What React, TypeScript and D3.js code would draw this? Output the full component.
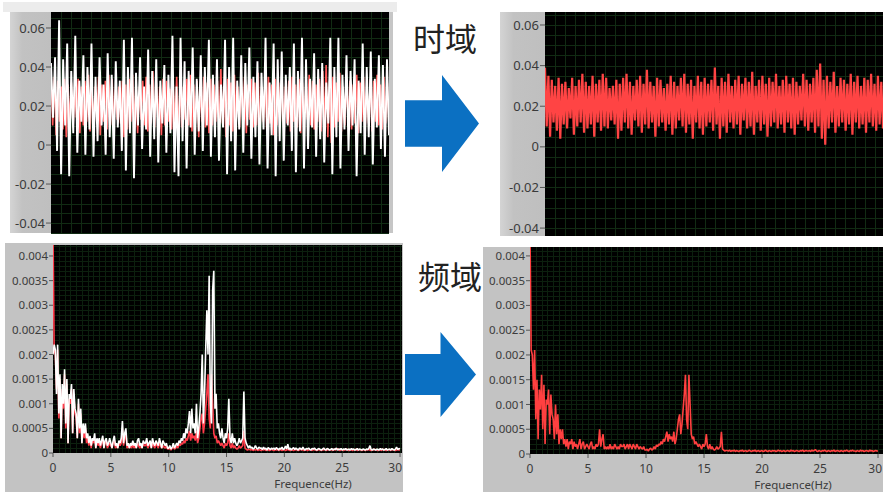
import React from "react";
import * as d3 from "d3";

// time-domain samples, units of 0.001
const rawTime = [42,14,45,-3,64,-15,44,10,52,-16,38,6,56,-4,33,12,46,-5,40,8,52,-6,35,2,45,10,31,-5,47,4,36,-7,43,9,33,-3,54,-13,40,6,55,-17,37,10,45,-2,30,8,49,-6,38,3,44,-9,33,11,41,-4,36,6,56,-14,30,-16,55,2,43,-12,38,9,50,-5,34,7,46,-3,40,10,54,-6,36,4,44,-8,31,9,54,-15,40,2,55,-13,33,8,46,-4,42,10,50,-7,35,4,43,-10,37,8,55,-12,32,5,52,-16,44,2,48,-8,36,10,40,-3,52,-14,38,7,55,-12,44,-2,34,9,47,-6,39,3,42,-9,32,11,55,-15,40,4,55,-12,36,8,46,-3,38,10,44,-16,33,6,52,-5,40,4,48,-10,34,9,46,-2,41,-6,44,5];

const filteredTime = [39,10,35,5,33,12,30,8,34,4,31,11,32,9,29,14,34,6,30,10,
  33,12,36,7,32,9,30,11,35,5,31,12,33,8,36,10,34,9,29,13,
  30,11,33,4,31,8,34,12,36,9,32,6,30,13,33,10,35,7,31,11,
  38,9,32,12,30,5,34,10,33,12,29,8,31,11,35,6,32,9,30,13,
  34,10,36,7,31,11,33,4,30,12,35,9,32,6,34,10,31,12,33,8,
  39,11,30,4,34,10,32,7,36,12,30,9,33,11,35,6,31,13,34,9,
  32,10,37,6,30,12,33,8,35,11,31,5,34,10,32,12,36,9,30,11,
  33,7,35,12,31,9,34,6,32,11,30,13,36,10,33,8,31,12,34,7,
  38,10,41,4,33,1,35,9,32,12,37,7,30,10,34,12,33,8,31,11,
  36,6,32,12,35,9,30,11,34,7,33,12,36,10,31,8,35,11,32,9];

// amplitude spectra, 0.1 Hz bins starting at 0 Hz, units of 0.0001
const binHz = 0.1;
const rawSpectrum = [20,22,21,12,22,8,16,3,14,10,
  17,6,15,2,12,11,14,4,13,9,
  8,3,11,5,9,2,6,4,6,3,
  4,2,3.5,1.5,3,2.5,4,1,3,2,
  3,1.5,2.5,3.5,1,2.5,3,1.5,2,3,
  2,1,2.5,3.5,1.5,2,1,2.5,2,3,
  6.5,2,4,5,1.5,2,1,2,1.5,2.5,
  1.5,2,1,2.5,3,1.5,2,1,2.5,2,
  2,3,1.5,2,2.5,1,3,2,1.5,2.5,
  2,1.5,3,2,1,2.5,2,1.5,2,1,
  1,1.5,0.8,1.2,2,1,1.5,2,1.5,2.5,
  2,3,2.5,4,3,5,4,6,8.5,4,
  9,5,6,4,10,3,5,8,12,20,
  6,12,21,29,20,36,10,6,33,37,
  9,12,5,6,4,3,5,3,2,4,
  3,5,11,3,2,4,2,3,2,1.5,
  2,3,2,2.5,3,12.5,3,2,1.5,1,
  1.5,1,1.2,0.8,1,1.5,1,0.8,1.2,1,
  1,0.7,1.2,0.8,1,0.6,1.1,0.9,0.7,1,
  0.8,1,0.7,1.1,0.9,0.6,1,0.8,1.2,0.7,
  0.9,1.4,0.8,1.8,0.7,1,0.6,0.9,1.1,0.7,
  1,0.8,0.6,1,0.9,0.7,1.2,0.8,0.6,0.9,
  0.8,1,0.7,0.6,0.9,0.8,1,0.7,0.6,0.8,
  0.9,0.7,0.6,0.8,1,0.7,0.6,0.9,0.8,0.6,
  0.7,0.9,0.6,0.8,0.7,1,0.6,0.8,0.7,0.9,
  0.6,0.8,0.7,0.9,0.6,0.7,0.8,0.6,0.9,0.7,
  0.8,0.6,0.7,0.9,0.6,0.8,0.7,0.6,0.8,0.7,
  0.6,0.8,0.7,0.9,1.5,0.7,0.6,0.8,0.7,0.6,
  0.8,0.7,0.6,0.9,0.7,0.8,0.6,0.7,0.9,0.6,
  0.7,0.8,0.6,0.9,0.7,0.6,0.8,1.2,0.7,0.9,
  0.8];

const filteredSpectrum = [45,21,20,13,21,7,15,3,13,9,
  16,5,14,2,11,10,13,4,12,8,
  7,3,10,4,8,2,5,3,5,2,
  3,1.5,3,1,2.5,2,3,1,2.5,1.5,
  2,1,2,3,1,2,2.5,1,1.5,2,
  1.5,1,2,2.5,1,1.5,1,2,1.5,2,
  5,1.5,3,4,1,1.5,1,1.5,1,2,
  1,1.5,1,2,1.5,1,1.5,1,2,1.5,
  1.5,2,1,1.5,2,1,2,1.5,1,2,
  1.5,1,2,1.5,1,1.5,1.2,1,1.5,0.8,
  0.8,1,0.6,1,1.2,0.8,1,1.5,1,1.8,
  1.5,2,1.8,2.5,2,3,2.5,3.5,4.5,2.5,
  4,3,3.5,2.5,4.5,2,3,5,7,8,
  4,6,9,12,16,7,5,16,10,4,
  3,3.5,2,2.5,2,1.5,2,1.5,1,2,
  1.5,2,4,1.5,1,2,1,1.5,1,0.8,
  1,1.5,1,1.2,1.5,4.5,1,0.8,0.6,0.7,
  0.7,0.6,0.8,0.5,0.7,0.6,0.8,0.5,0.7,0.6,
  0.5,0.7,0.6,0.8,0.5,0.6,0.7,0.5,0.6,0.8,
  0.6,0.5,0.7,0.6,0.8,0.5,0.6,0.7,0.5,0.6,
  0.7,0.5,0.6,0.8,0.6,0.5,0.7,0.6,0.5,0.7,
  0.6,0.7,0.5,0.6,0.8,0.6,0.7,0.5,0.6,0.7,
  0.5,0.6,0.7,0.6,0.5,0.8,0.6,0.7,0.5,0.6,
  0.7,0.6,0.5,0.7,0.6,0.8,0.5,0.6,0.7,0.6,
  0.6,0.7,0.5,0.8,0.6,0.7,0.9,0.6,0.5,0.7,
  0.6,0.5,0.7,0.6,0.8,0.6,0.5,0.7,0.6,0.5,
  0.7,0.6,0.8,0.5,0.6,0.7,0.6,0.5,0.7,0.6,
  0.5,0.7,0.6,0.8,0.6,0.5,0.7,0.6,0.8,0.6,
  0.6,0.5,0.7,0.6,0.5,0.8,0.6,0.7,0.5,0.6,
  0.7,0.6,0.5,0.8,0.6,0.7,0.5,0.6,0.7,0.6,
  0.6];

const timeTicks = [0.06, 0.04, 0.02, 0, -0.02, -0.04];
const timeTickLabels = ["0.06", "0.04", "0.02", "0", "-0.02", "-0.04"];
const freqTicks = [0.004, 0.0035, 0.003, 0.0025, 0.002, 0.0015, 0.001, 0.0005, 0];
const freqTickLabels = ["0.004", "0.0035", "0.003", "0.0025", "0.002", "0.0015", "0.001", "0.0005", "0"];
const freqXTicks = [0, 5, 10, 15, 20, 25, 30];
const freqXLabels = ["0", "5", "10", "15", "20", "25", "30"];

const FONT = "'Noto Sans', 'DejaVu Sans', sans-serif";

type Box = { x: number; y: number; w: number; h: number };
type Series = { data: number[]; unit: number; color: string; width: number };

function TimeGraph({ id, frame, plot, yDomain, series }: { id: string; frame: Box; plot: Box; yDomain: [number, number]; series: Series[] }) {
  const y = d3.scaleLinear().domain(yDomain).range([plot.y + plot.h, plot.y]);
  const hGrid = d3.range(-0.045, 0.0701, 0.005).filter((v) => v >= yDomain[0] && v <= yDomain[1]);
  const vGrid = d3.range(plot.x + 10, plot.x + plot.w, 10);
  return (
    <g>
      <rect x={frame.x} y={frame.y} width={frame.w} height={frame.h} fill="#c6c6c6" />
      <rect x={frame.x} y={frame.y} width={plot.x - frame.x} height={frame.h} fill={`url(#strip)`} />
      <clipPath id={id}>
        <rect x={plot.x} y={plot.y} width={plot.w} height={plot.h} />
      </clipPath>
      <rect x={plot.x} y={plot.y} width={plot.w} height={plot.h} fill="#000" />
      <g stroke="#112b13" strokeWidth={1}>
        {hGrid.map((v, i) => <line key={"h" + i} x1={plot.x} x2={plot.x + plot.w} y1={Math.round(y(v)) + 0.5} y2={Math.round(y(v)) + 0.5} />)}
        {vGrid.map((v, i) => <line key={"v" + i} x1={v + 0.5} x2={v + 0.5} y1={plot.y} y2={plot.y + plot.h} />)}
      </g>
      <g clipPath={`url(#${id})`}>
        {series.map((s, k) => {
          const x = d3.scaleLinear().domain([0, s.data.length - 1]).range([plot.x, plot.x + plot.w]);
          const line = d3.line<number>().x((_, i) => x(i)).y((d) => y(d * s.unit));
          return <path key={k} d={line(s.data) || ""} fill="none" stroke={s.color} strokeWidth={s.width} strokeLinejoin="bevel" />;
        })}
      </g>
      {timeTicks.map((t, i) => (
        <g key={t}>
          <line x1={plot.x - 5} x2={plot.x} y1={y(t)} y2={y(t)} stroke="#555" />
          <text x={plot.x - 6} y={y(t)} dy="0.35em" textAnchor="end" fontSize={13} fill="#3a3a3a" fontFamily={FONT}>
            {timeTickLabels[i]}
          </text>
        </g>
      ))}
    </g>
  );
}

function FreqGraph({ id, frame, plot, yMax, xMax, series }: { id: string; frame: Box; plot: Box; yMax: number; xMax: number; series: Series[] }) {
  const x = d3.scaleLinear().domain([0, xMax]).range([plot.x, plot.x + plot.w]);
  const y = d3.scaleLinear().domain([0, yMax]).range([plot.y + plot.h, plot.y]);
  const hGrid = d3.range(0.0001, yMax, 0.0001);
  const vGrid = d3.range(0.5, xMax, 0.5);
  const right = frame.x + frame.w;
  return (
    <g>
      <clipPath id={id + "f"}>
        <rect x={frame.x} y={frame.y} width={frame.w} height={frame.h} />
      </clipPath>
      <rect x={frame.x} y={frame.y} width={frame.w} height={frame.h} fill="#c3c3c3" />
      <clipPath id={id}>
        <rect x={plot.x} y={plot.y} width={plot.w} height={plot.h} />
      </clipPath>
      <rect x={plot.x} y={plot.y} width={plot.w} height={plot.h} fill="#000" />
      <g stroke="#0c200e" strokeWidth={1}>
        {hGrid.map((v, i) => <line key={"h" + i} x1={plot.x} x2={plot.x + plot.w} y1={Math.round(y(v)) + 0.5} y2={Math.round(y(v)) + 0.5} />)}
        {vGrid.map((v, i) => <line key={"v" + i} x1={Math.round(x(v)) + 0.5} x2={Math.round(x(v)) + 0.5} y1={plot.y} y2={plot.y + plot.h} />)}
      </g>
      <g clipPath={`url(#${id})`}>
        {series.map((s, k) => {
          const line = d3.line<number>().x((_, i) => x(i * binHz)).y((d) => y(d * s.unit));
          return <path key={k} d={line(s.data) || ""} fill="none" stroke={s.color} strokeWidth={s.width} strokeLinejoin="bevel" />;
        })}
      </g>
      <g clipPath={`url(#${id}f)`}>
        {freqTicks.map((t, i) => (
          <g key={t}>
            <line x1={plot.x - 4} x2={plot.x} y1={y(t)} y2={y(t)} stroke="#555" />
            <text x={plot.x - 5} y={y(t)} dy="0.35em" textAnchor="end" fontSize={11.5} fill="#3c3c3c" fontFamily={FONT}>
              {freqTickLabels[i]}
            </text>
          </g>
        ))}
        {freqXTicks.map((t, i) => {
          const px = x(t);
          const overflow = px + 8 > right;
          return (
            <g key={t}>
              <line x1={px} x2={px} y1={plot.y + plot.h} y2={plot.y + plot.h + 4} stroke="#555" />
              <text x={overflow ? right - 1 : px} y={plot.y + plot.h + 15} dy="0.35em" textAnchor={overflow ? "end" : "middle"} fontSize={12} fill="#3c3c3c" fontFamily={FONT}>
                {freqXLabels[i]}
              </text>
            </g>
          );
        })}
        <text x={x(xMax * 0.745)} y={plot.y + plot.h + 31} dy="0.35em" textAnchor="middle" fontSize={11.5} fill="#3c3c3c" fontFamily={FONT}>
          Frequence(Hz)
        </text>
      </g>
    </g>
  );
}

function Arrow({ x, y, w, h }: Box) {
  // shaft ~half width, head spans full height
  const sx = x + w * 0.5;
  const pts = [
    [x, y + h * 0.26], [sx, y + h * 0.26], [sx, y], [x + w, y + h / 2],
    [sx, y + h], [sx, y + h * 0.74], [x, y + h * 0.74],
  ];
  return <polygon points={pts.map((p) => p.join(",")).join(" ")} fill="#0b70c2" />;
}

export default function App() {
  return (
    <svg width={883} height={492} style={{ position: "absolute", left: 0, top: 0, background: "#fff" }}>
      <defs>
        <linearGradient id="strip" x1="0" x2="1" y1="0" y2="0">
          <stop offset="0" stopColor="#d4d4d4" />
          <stop offset="0.3" stopColor="#c2c2c2" />
          <stop offset="1" stopColor="#bfbfbf" />
        </linearGradient>
      </defs>
      <rect x={3} y={2} width={394} height={10} fill="#ececec" />

      <TimeGraph
        id="tl"
        frame={{ x: 10, y: 12, w: 383, h: 221 }}
        plot={{ x: 51, y: 12, w: 338, h: 221 }}
        yDomain={[-0.0451, 0.0682]}
        series={[
          { data: filteredTime, unit: 0.001, color: "#ff5a5a", width: 1.6 },
          { data: rawTime, unit: 0.001, color: "#ffffff", width: 1.9 },
        ]}
      />
      <TimeGraph
        id="tr"
        frame={{ x: 500, y: 12, w: 383, h: 224 }}
        plot={{ x: 545, y: 12, w: 338, h: 224 }}
        yDomain={[-0.0439, 0.0664]}
        series={[{ data: filteredTime, unit: 0.001, color: "#ff4444", width: 2.2 }]}
      />
      <FreqGraph
        id="bl"
        frame={{ x: 5, y: 243, w: 398, h: 249 }}
        plot={{ x: 53, y: 245, w: 349, h: 208 }}
        yMax={0.004223}
        xMax={30.17}
        series={[
          { data: filteredSpectrum, unit: 0.0001, color: "#ff3c4a", width: 1.6 },
          { data: rawSpectrum, unit: 0.0001, color: "#ffffff", width: 1.6 },
        ]}
      />
      <FreqGraph
        id="br"
        frame={{ x: 483, y: 247, w: 400, h: 245 }}
        plot={{ x: 530, y: 247, w: 353, h: 207 }}
        yMax={0.00418}
        xMax={30.43}
        series={[{ data: filteredSpectrum, unit: 0.0001, color: "#ff4040", width: 1.6 }]}
      />

      <text x={445} y={51} textAnchor="middle" fontSize={32} fill="#222" fontFamily="'Noto Sans CJK SC', sans-serif">时域</text>
      <Arrow x={405} y={75} w={74} h={97} />
      <text x={450} y={289} textAnchor="middle" fontSize={32} fill="#222" fontFamily="'Noto Sans CJK SC', sans-serif">频域</text>
      <Arrow x={405} y={332} w={71} h={85} />
    </svg>
  );
}
